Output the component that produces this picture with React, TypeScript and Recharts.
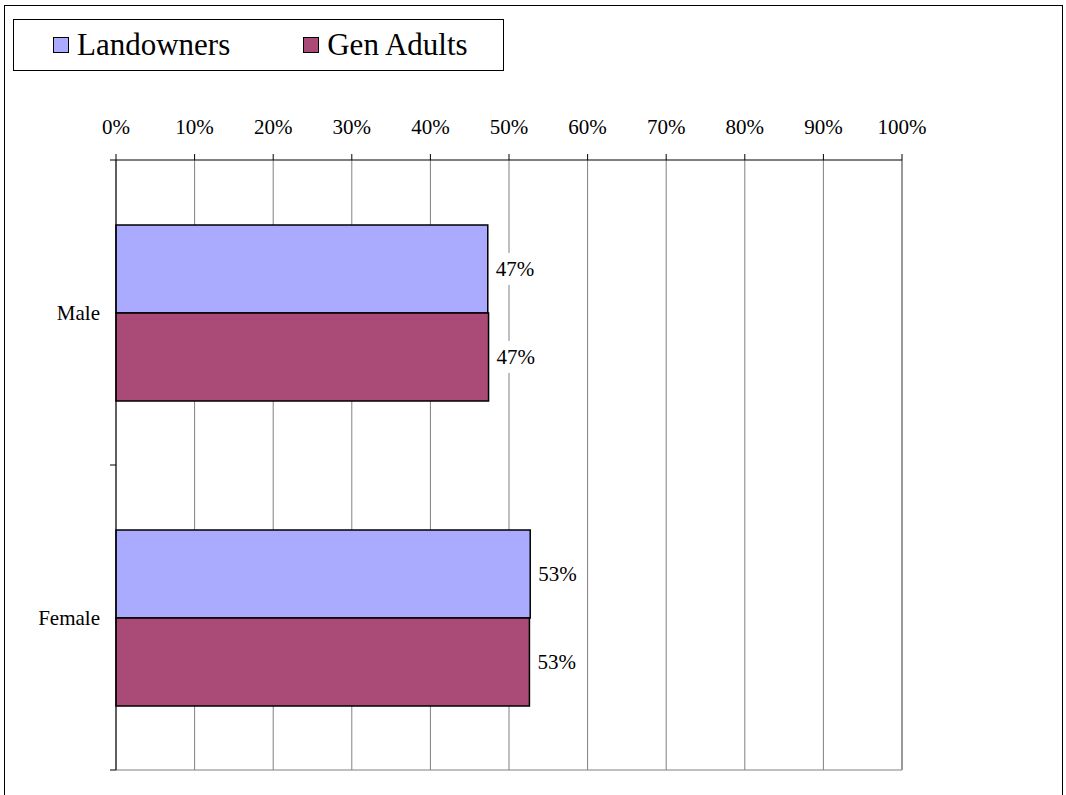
import { BarChart, Bar, XAxis, YAxis, CartesianGrid, LabelList, ReferenceLine } from 'recharts';

const CATEGORIES = ['Male', 'Female'];
const LANDOWNERS = [47.3, 52.7];
const GEN_ADULTS = [47.4, 52.6];
const X_TICKS = [0, 10, 20, 30, 40, 50, 60, 70, 80, 90, 100];

const SERIES = [
  { key: 'landowners', name: 'Landowners', color: '#AAAAFF' },
  { key: 'genAdults', name: 'Gen Adults', color: '#AA4A76' },
];

const FONT = '"Liberation Serif", "Times New Roman", serif';

const data = CATEGORIES.map((name, i) => ({ name, landowners: LANDOWNERS[i], genAdults: GEN_ADULTS[i] }));

function ValueLabel(props: any) {
  const { x, y, width, height, value } = props;
  const tx = x + width + 8;
  const cy = y + height / 2;
  return (
    <g>
      <rect x={tx - 3} y={cy - 16} width={50} height={32} fill="#fff" />
      <text x={tx} y={cy} dy="0.35em" fontSize={21} fontFamily={FONT} fill="#000">
        {`${Math.round(value)}%`}
      </text>
    </g>
  );
}

// category label plus tick marks on the band edges (like Excel)
function CategoryTick(props: any) {
  const { x, y, payload, index, visibleTicksCount } = props;
  const half = payload && payload.offset ? payload.offset : 0;
  const axisX = x + 16;
  return (
    <g>
      <text x={x} y={y} dy="0.35em" textAnchor="end" fontSize={21} fontFamily={FONT} fill="#000">
        {payload.value}
      </text>
      {half > 0 && <line x1={axisX - 6} x2={axisX} y1={y - half} y2={y - half} stroke="#000" />}
      {half > 0 && index === visibleTicksCount - 1 && (
        <line x1={axisX - 6} x2={axisX} y1={y + half} y2={y + half} stroke="#000" />
      )}
    </g>
  );
}

export default function App() {
  return (
    <div style={{ position: 'absolute', left: 0, top: 0, width: 1066, height: 795, background: '#fff', overflow: 'hidden' }}>
      <div style={{ position: 'absolute', left: 4, top: 5, width: 1059, height: 800, border: '1px solid #000', boxSizing: 'border-box' }} />
      <div
        style={{
          position: 'absolute', left: 13, top: 19, width: 491, height: 52, border: '1px solid #000',
          boxSizing: 'border-box', fontFamily: FONT, fontSize: 31, display: 'flex', alignItems: 'center', background: '#fff',
        }}
      >
        {SERIES.map((s, i) => (
          <div key={s.key} style={{ display: 'flex', alignItems: 'center', marginLeft: i === 0 ? 39 : 73 }}>
            <span style={{ width: 14, height: 14, background: s.color, border: '1.5px solid #000', marginRight: 8, display: 'inline-block' }} />
            <span>{s.name}</span>
          </div>
        ))}
      </div>
      <BarChart
        width={1066}
        height={795}
        data={data}
        layout="vertical"
        margin={{ top: 110, right: 164, bottom: 25, left: 16 }}
        barCategoryGap="21.3%"
        barGap={0}
        style={{ position: 'absolute', left: 0, top: 0 }}
      >
        <CartesianGrid
          stroke="#808080"
          horizontalCoordinatesGenerator={({ offset }: any) => [offset.top + offset.height]}
        />
        <XAxis
          type="number"
          orientation="top"
          domain={[0, 100]}
          ticks={X_TICKS}
          tickFormatter={(v) => `${v}%`}
          height={50}
          tickSize={6}
          tickMargin={20}
          stroke="#000"
          tick={{ fill: '#000', fontSize: 21, fontFamily: FONT }}
        />
        <YAxis
          type="category"
          dataKey="name"
          width={100}
          tickLine={false}
          tickSize={6}
          tickMargin={10}
          stroke="#000"
          tick={<CategoryTick />}
        />
        <ReferenceLine x={100} stroke="#999" strokeWidth={2} />
        {SERIES.map((s) => (
          <Bar key={s.key} dataKey={s.key} name={s.name} fill={s.color} stroke="#000" strokeWidth={1.5} isAnimationActive={false}>
            <LabelList dataKey={s.key} content={ValueLabel} />
          </Bar>
        ))}
      </BarChart>
    </div>
  );
}
